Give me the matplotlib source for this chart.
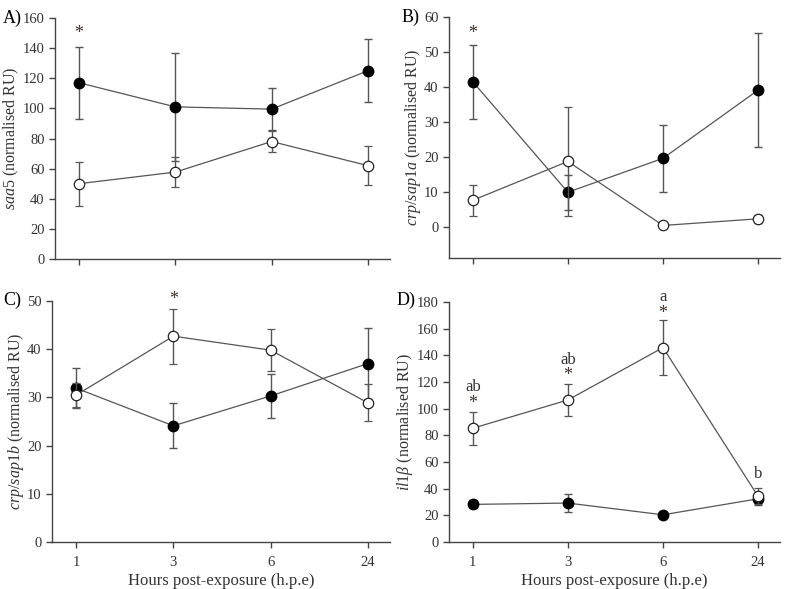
import numpy as np
import matplotlib
matplotlib.use('Agg')
from matplotlib import pyplot as plt

plt.rcParams['font.family'] = ['Liberation Serif', 'DejaVu Serif']
plt.rcParams['mathtext.fontset'] = 'custom'
plt.rcParams['mathtext.it'] = 'Liberation Serif:italic'
plt.rcParams['mathtext.rm'] = 'Liberation Serif'

hours = ['1', '3', '6', '24']

# A) saa5
saa5_filled = [117, 101, 99.5, 125]
saa5_filled_err = [24, 36, 14, 21]
saa5_open = [50, 57.7, 78, 62]
saa5_open_err = [14.5, 10, 7, 12.7]

# B) crp/sap1a
sap1a_filled = [41.5, 9.9, 19.6, 39.1]
sap1a_filled_err = [10.6, 5, 9.5, 16.3]
sap1a_open = [7.6, 18.7, 0.4, 2.3]
sap1a_open_err = [4.5, 15.7, 0.3, 1.2]

# C) crp/sap1b
sap1b_filled = [31.9, 24.1, 30.3, 37]
sap1b_filled_err = [4.2, 4.7, 4.5, 7.4]
sap1b_open = [30.5, 42.7, 39.8, 28.9]
sap1b_open_err = [2.4, 5.7, 4.3, 3.9]

# D) il1b
il1b_filled = [28.2, 29.2, 20.4, 32.4]
il1b_filled_err = [3, 6.7, 1, 4.5]
il1b_open = [85.3, 106.5, 145.8, 34.2]
il1b_open_err = [12.2, 12, 20.8, 6]

line_col = '#555555'
axis_col = '#444444'
text_col = '#333333'

fig = plt.figure(figsize=(7.87, 5.89), dpi=100)
ax_a = fig.add_axes([0.0699, 0.5603, 0.4257, 0.4091])
ax_b = fig.add_axes([0.5705, 0.5620, 0.4206, 0.4091])
ax_c = fig.add_axes([0.0661, 0.0798, 0.4295, 0.4092])
ax_d = fig.add_axes([0.5705, 0.0798, 0.4206, 0.4075])

panels = [
    (ax_a, saa5_filled, saa5_filled_err, saa5_open, saa5_open_err,
     (0, 160), np.arange(0, 161, 20), '$\\mathit{saa5}$ (normalised RU)'),
    (ax_b, sap1a_filled, sap1a_filled_err, sap1a_open, sap1a_open_err,
     (-8.9, 60), np.arange(0, 61, 10), '$\\mathit{crp/sap1a}$ (normalised RU)'),
    (ax_c, sap1b_filled, sap1b_filled_err, sap1b_open, sap1b_open_err,
     (0, 50), np.arange(0, 51, 10), '$\\mathit{crp/sap1b}$ (normalised RU)'),
    (ax_d, il1b_filled, il1b_filled_err, il1b_open, il1b_open_err,
     (0, 180), np.arange(0, 181, 20), '$\\mathit{il1\\beta}$ (normalised RU)'),
]

x = np.arange(len(hours))
for ax, yf, ef, yo, eo, ylim, yticks, ylab in panels:
    ax.errorbar(x, yf, yerr=ef, color=line_col, lw=0.9, ecolor=line_col,
                elinewidth=1.0, capsize=2.6, capthick=1.0,
                marker='o', ms=7.5, mfc='black', mec='black', zorder=3)
    ax.errorbar(x, yo, yerr=eo, color=line_col, lw=0.9, ecolor=line_col,
                elinewidth=1.0, capsize=2.6, capthick=1.0,
                marker='o', ms=7.5, mfc='white', mec='#222222', mew=0.9, zorder=4)
    ax.set_xlim(-0.25, 3.23)
    ax.set_ylim(*ylim)
    ax.set_yticks(yticks)
    ax.set_xticks(x)
    for side in ['top', 'right']:
        ax.spines[side].set_visible(False)
    for side in ['left', 'bottom']:
        ax.spines[side].set_color(axis_col)
        ax.spines[side].set_linewidth(1.0)
    ax.tick_params(colors=axis_col, labelcolor=text_col, labelsize=10.5,
                   direction='out', length=4, width=1.0)
    ax.tick_params(axis='x', pad=6)
    ax.set_ylabel(ylab, fontsize=11.5, color=text_col, labelpad=1)

# panel letters
fig.text(3 / 787, 1 - 18 / 589, 'A)', fontsize=13, ha='left', va='center')
fig.text(402 / 787, 1 - 17 / 589, 'B)', fontsize=13, ha='left', va='center')
fig.text(3 / 787, 1 - 300 / 589, 'C)', fontsize=13, ha='left', va='center')
fig.text(397 / 787, 1 - 300 / 589, 'D)', fontsize=13, ha='left', va='center')

# bottom panels carry the hour labels
for ax in [ax_a, ax_b]:
    ax.set_xticklabels([])
for ax in [ax_c, ax_d]:
    ax.set_xticklabels(hours)
    ax.set_xlabel('Hours post-exposure (h.p.e)', fontsize=12, color=text_col, labelpad=3)

# significance marks
star_col = '#3a2e25'
ax_a.text(0, 150, '*', ha='center', va='center', fontsize=13, color=star_col)
ax_b.text(0, 55.3, '*', ha='center', va='center', fontsize=13, color=star_col)
ax_c.text(1, 50.4, '*', ha='center', va='center', fontsize=13, color=star_col, clip_on=False)
ax_d.text(0, 104, '*', ha='center', va='center', fontsize=13, color=star_col)
ax_d.text(1, 125, '*', ha='center', va='center', fontsize=13, color=star_col)
ax_d.text(2, 171, '*', ha='center', va='center', fontsize=13, color=star_col)
ax_d.text(0, 116.5, 'ab', ha='center', va='center', fontsize=12, color=text_col)
ax_d.text(1, 136.5, 'ab', ha='center', va='center', fontsize=12, color=text_col)
ax_d.text(2, 183.5, 'a', ha='center', va='center', fontsize=12, color=text_col, clip_on=False)
ax_d.text(3, 51, 'b', ha='center', va='center', fontsize=12, color=text_col)

plt.savefig('out.png', dpi=100)
